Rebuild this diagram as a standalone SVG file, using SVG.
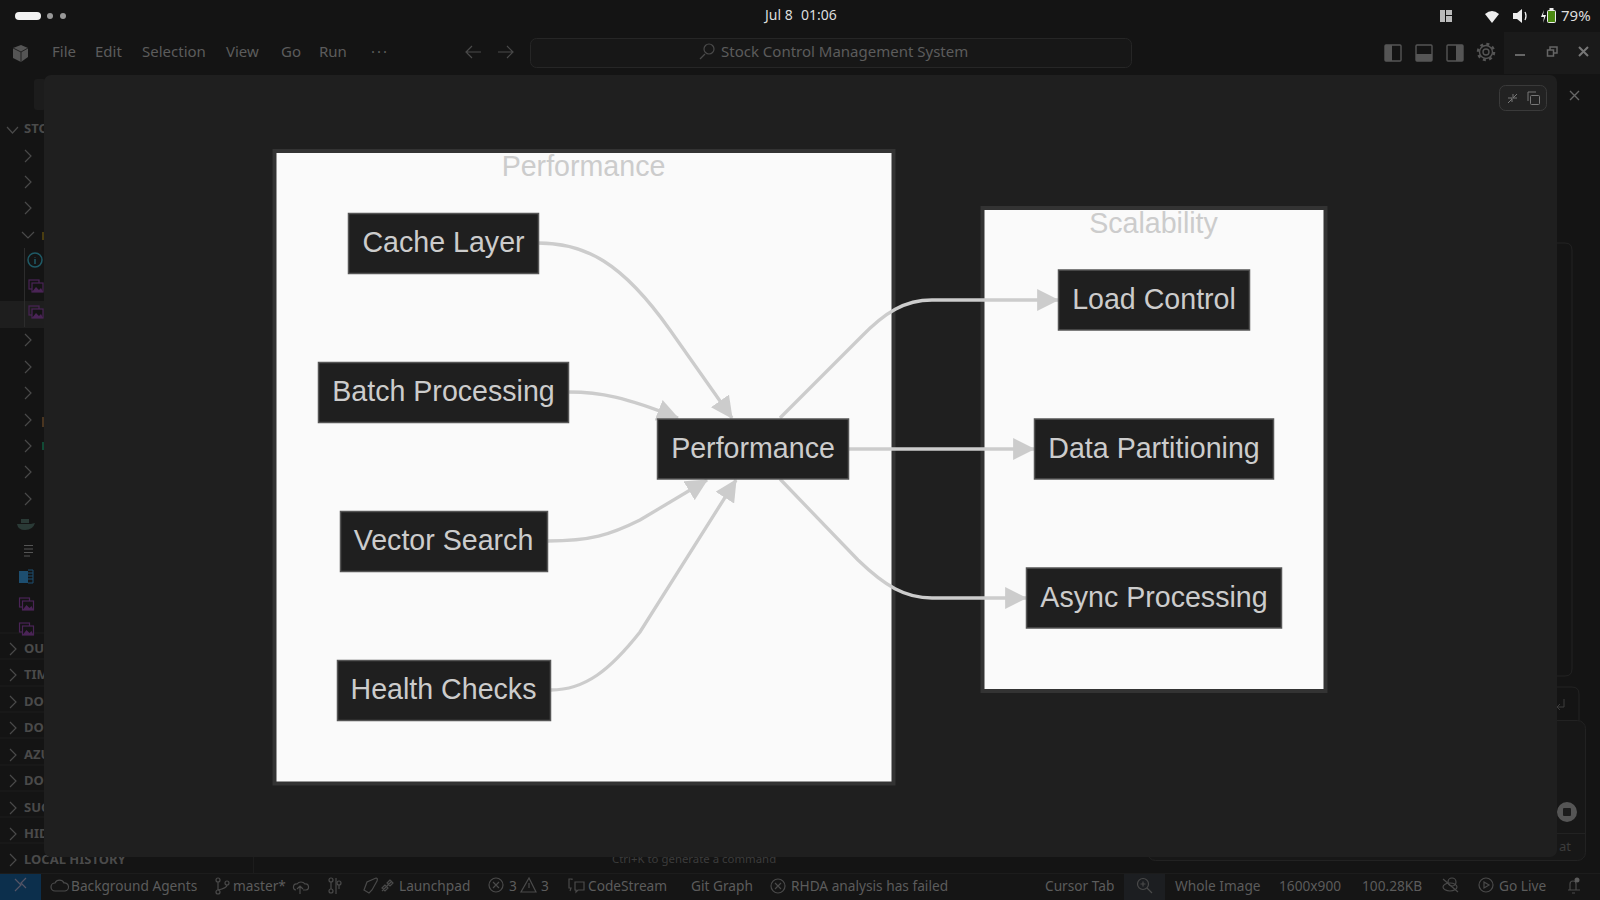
<svg xmlns="http://www.w3.org/2000/svg" width="1600" height="900" viewBox="0 0 1600 900">
<style>
.ui{font-family:"Noto Sans","Open Sans",sans-serif;font-size:13.700px;fill:#5c5c5c}
.mn{font-family:"Noto Sans","Open Sans",sans-serif;font-size:15px;fill:#5c5c5c}
.side{font-family:"Noto Sans","Open Sans",sans-serif;font-size:13px;font-weight:700;fill:#4a4a4a}
.chev{fill:none;stroke:#4a4a4a;stroke-width:1.200}
.nr{fill:#1f1f1f;stroke:#555;stroke-width:1.500}
.nt{font-family:"Liberation Sans",Arial,sans-serif;font-size:28.600px;fill:#ccc;text-anchor:middle}
.cl{fill:#fafafa;stroke:#333;stroke-width:4}
.ct{font-family:"Liberation Sans",Arial,sans-serif;font-size:28.600px;fill:#ccc;text-anchor:middle}
.e{fill:none;stroke:#ccc;stroke-width:3.300;marker-end:url(#ah)}
.img{fill:none;stroke:#4a2456;stroke-width:1.200}
</style>
<defs>
<marker id="ah" viewBox="0 0 10 10" refX="9.500" refY="5" markerUnits="userSpaceOnUse" markerWidth="22" markerHeight="22" orient="auto"><path d="M0,0L10,5L0,10z" fill="#ccc"/></marker>
<g id="imgicon"><rect class="img" x="0" y="0" width="10" height="9"/><rect x="3" y="3" width="11" height="9" fill="#141414" stroke="#4a2456" stroke-width="1.200"/><path d="M3,12l4,-5 3,3 2,-2 2,4z" fill="#4a2456"/></g>
</defs>
<rect width="1600" height="900" fill="#141414"/>
<g id="topbar">
<rect x="15" y="12" width="26" height="8" rx="4" fill="#f2f2f2"/><circle cx="50" cy="16" r="3" fill="#999"/><circle cx="63" cy="16" r="3" fill="#999"/>
<text y="20" style="font-family:'Noto Sans',sans-serif;font-size:14px;fill:#ddd"><tspan x="765">Jul 8</tspan><tspan x="801">01:06</tspan></text>
<rect x="1440" y="10" width="5" height="12" fill="#bbb"/><rect x="1446" y="10" width="6" height="5" fill="#bbb"/><rect x="1446" y="16" width="6" height="6" fill="#bbb"/>
<path d="M1485,14q7,-6 14,0l-7,9z" fill="#eee"/>
<path d="M1513,13h4l5,-4v14l-5,-4h-4z" fill="#eee"/><path d="M1525,12q2,4 0,8" fill="none" stroke="#eee" stroke-width="1.300"/>
<path d="M1544,10l-3,7h3l-1,6 3,-8h-3z" fill="#eee"/>
<rect x="1547.500" y="10.500" width="8" height="12" rx="1" fill="#4c8a12" stroke="#eee"/><rect x="1549.500" y="8" width="4" height="2" fill="#eee"/>
<text x="1561" y="21" style="font-family:'Noto Sans',sans-serif;font-size:15px;fill:#ddd">79%</text>
</g>
<g id="menubar">
<path d="M13,48l8,-3 7,3v9l-7,5-8,-4z" fill="#555"/><path d="M13,48l8,4 7,-4M21,52v10" stroke="#222" fill="none"/>
<text class="mn" x="52" y="57">File</text><text class="mn" x="95" y="57">Edit</text><text class="mn" x="142" y="57">Selection</text><text class="mn" x="226" y="57">View</text><text class="mn" x="281" y="57">Go</text><text class="mn" x="319" y="57">Run</text><text class="mn" x="371" y="57" style="letter-spacing:2px">···</text>
<path d="M481,52h-14m5,-6l-6,6 6,6" class="chev"/><path d="M498,52h14m-5,-6l6,6-6,6" class="chev"/>
<rect x="530.500" y="38.500" width="601" height="29" rx="6" fill="#171717" stroke="#262626"/>
<circle cx="709" cy="49" r="5" class="chev"/><path d="M705,54l-5,5" class="chev"/>
<text class="mn" x="721" y="57">Stock Control Management System</text>
<g fill="none" stroke="#555" stroke-width="1.400"><rect x="1385" y="45" width="16" height="16" rx="1"/><rect x="1416" y="45" width="16" height="16" rx="1"/><rect x="1447" y="45" width="16" height="16" rx="1"/><circle cx="1486" cy="52" r="3"/><circle cx="1486" cy="52" r="6.500"/><circle cx="1486" cy="52" r="8" stroke-width="2.500" stroke-dasharray="3 3.300"/></g>
<rect x="1385" y="45" width="7" height="16" fill="#555"/><rect x="1416" y="54" width="16" height="7" fill="#555"/><rect x="1456" y="45" width="7" height="16" fill="#555"/>
<rect x="1504" y="32" width="96" height="42" fill="#1a1a1a"/>
<path d="M1515,55h10" stroke="#666" stroke-width="2"/><rect x="1547.500" y="50" width="6" height="6" fill="none" stroke="#666" stroke-width="1.500"/><path d="M1550,50v-3h7v6h-3" fill="none" stroke="#666" stroke-width="1.500"/><path d="M1579,47l9,9m0,-9l-9,9" stroke="#777" stroke-width="2"/>
</g>
<g id="sidebar">
<rect x="34" y="79" width="12" height="31" rx="3" fill="#1c1c1c"/><rect x="0" y="301" width="44" height="27" fill="#1e1e1e"/>
<path class="chev" d="M7,127l5.500,6 5.500,-6M22,232l6,6 6,-6M25,150l6,6-6,6M25,176l6,6-6,6M25,202l6,6-6,6M25,334l6,6-6,6M25,361l6,6-6,6M25,387l6,6-6,6M25,414l6,6-6,6M25,440l6,6-6,6M25,466l6,6-6,6M25,493l6,6-6,6M10,643l6,6-6,6M10,669l6,6-6,6M10,696l6,6-6,6M10,722l6,6-6,6M10,749l6,6-6,6M10,775l6,6-6,6M10,802l6,6-6,6M10,828l6,6-6,6M10,854l6,6-6,6"/>
<path d="M24.500,248v79" stroke="#2c2c2c"/>
<path d="M0,633h44M0,659h44M0,686h44M0,712h44M0,738h44M0,765h44M0,791h44M0,817h44M0,843h44" stroke="#1c1c1c"/>
<circle cx="35" cy="260" r="7" fill="none" stroke="#1f5a66" stroke-width="1.500"/><path d="M35,257v.5M35,259v5" stroke="#1f5a66" stroke-width="1.500"/>
<use href="#imgicon" x="29" y="280"/><use href="#imgicon" x="29" y="306"/><use href="#imgicon" x="19.500" y="598"/><use href="#imgicon" x="19.500" y="623"/>
<rect x="19" y="571" width="9" height="12" fill="#1d4e70"/><path d="M28,570h5v13h-5M28,573h5M28,576h5M28,579h5" fill="none" stroke="#1d4e70"/>
<path d="M17,524h14q4,-1 4,-1q-2,7 -10,7q-7,0 -8,-6zM21,519h8v4h-8z" fill="#2a3a36"/>
<path d="M24,545.500h9M24,549h9M24,552.500h9M24,556h6" stroke="#555"/>
<rect x="42" y="232" width="2" height="8" fill="#4a3d10"/><rect x="42" y="417" width="2" height="10" fill="#4a3520"/><rect x="42" y="442" width="2" height="8" fill="#114a35"/>
<text class="side" x="24" y="133">STO</text><text class="side" x="24" y="653">OUT</text><text class="side" x="24" y="679">TIM</text><text class="side" x="24" y="706">DOC</text><text class="side" x="24" y="732">DOC</text><text class="side" x="24" y="759">AZU</text><text class="side" x="24" y="785">DOC</text><text class="side" x="24" y="812">SUG</text><text class="side" x="24" y="838">HID</text><text class="side" x="24" y="864">LOCAL HISTORY</text>
<path d="M253.500,857v17" stroke="#1c1c1c"/>
<text x="612" y="863" style="font-family:'Noto Sans',sans-serif;font-size:11.400px;fill:#3c3c3c">Ctrl+K to generate a command</text>
</g>
<g id="rightpane">
<path d="M1556,243h9q7,0 7,7v419q0,7 -7,7h-9" fill="none" stroke="#222"/>
<path d="M1556,687h16q7,0 7,7v26" fill="none" stroke="#222"/>
<rect x="1147.500" y="720.500" width="438" height="140" rx="8" fill="#171717" stroke="#222"/>
<path d="M1556,833.500h30" stroke="#222"/>
<path d="M1564,699v8h-7m3,-3l-3,3 3,3" fill="none" stroke="#3c3c3c"/>
<circle cx="1567" cy="812" r="10" fill="#555"/><rect x="1563" y="808" width="8" height="8" rx="1" fill="#1c1c1c"/>
<text x="1559" y="851" style="font-family:'Noto Sans',sans-serif;font-size:13px;fill:#3c3c3c">at</text>
<path d="M1570,91l9,9m0,-9l-9,9" stroke="#666" stroke-width="1.400"/>
</g>
<g id="statusbar">
<rect y="874" width="1600" height="26" fill="#151515"/><path d="M0,873.500h1600" stroke="#1c1c1c"/><rect y="874" width="41" height="26" fill="#0c2f4c"/>
<path d="M15,879l6,6-6,6M26,878l-5,5 5,5" fill="none" stroke="#556" stroke-width="1.200"/>
<text class="ui" x="71" y="891">Background Agents</text><text class="ui" x="233" y="891">master*</text><text class="ui" x="399" y="891">Launchpad</text><text class="ui" x="509" y="891">3</text><text class="ui" x="541" y="891">3</text><text class="ui" x="588" y="891">CodeStream</text><text class="ui" x="691" y="891">Git Graph</text><text class="ui" x="791" y="891">RHDA analysis has failed</text><text class="ui" x="1045" y="891">Cursor Tab</text>
<rect x="1124" y="874" width="41" height="26" fill="#1c1e21"/><circle cx="1143" cy="884" r="5.500" class="chev"/><path d="M1147,888l5,5M1143,881.500v5M1140.500,884h5" class="chev"/>
<text class="ui" x="1175" y="891">Whole Image</text><text class="ui" x="1279" y="891">1600x900</text><text class="ui" x="1362" y="891">100.28KB</text><text class="ui" x="1499" y="891">Go Live</text>
<g class="chev"><path d="M55,891a4,4 0 0 1 0,-8a5,5 0 0 1 9,0a4,4 0 0 1 1,8z"/><circle cx="218" cy="880" r="2"/><circle cx="218" cy="892" r="2"/><circle cx="227" cy="883" r="2"/><path d="M218,882v8M227,885q0,3 -9,5"/><path d="M296,890a3,3 0 0 1 1,-6a5,5 0 0 1 8,0a3,3 0 0 1 1,6h-3M300,894v-8m-3,3l3,-3 3,3"/><circle cx="331" cy="880" r="2"/><circle cx="331" cy="891" r="2"/><circle cx="339" cy="883" r="2"/><path d="M331,882v7M336,878v16M339,885v4"/><path d="M364,890l3,-8 9,-4q2,0 1,3l-5,9-3,3z"/><path d="M382,891l10,-10M385,885l-3,3 3,3 3,-3zM390,880l-3,3 3,3 3,-3z"/><circle cx="496" cy="885" r="7"/><path d="M493,882l6,6m0,-6l-6,6"/><path d="M529,878l7,14h-15z M529,883v5"/><path d="M572,880v-1h-3v9h2l-1,3M575,882h9v8h-6l-2,2v-2h-1z"/><circle cx="778" cy="886" r="7"/><path d="M775,883l6,6m0,-6l-6,6"/><ellipse cx="1450" cy="887" rx="7" ry="4"/><circle cx="1452" cy="882" r="4"/><path d="M1443,879l15,13"/><circle cx="1486" cy="885" r="7"/><path d="M1484,882l5,3-5,3z"/><path d="M1568,890h12M1570,890v-6a3,3 0 0 1 6,0v6M1572,893h3"/></g>
<circle cx="1577" cy="880" r="2.500" fill="#5c5c5c"/>
</g>
<rect id="panel" x="44" y="75" width="1513" height="782" rx="7" fill="#1f1f1f"/>
<g id="panel-tools">
<rect x="1499.500" y="85.500" width="47" height="25" rx="6" fill="#222" stroke="#3a3a3a"/>
<path d="M1508,103l4,-4M1513,98l4,-4" stroke="#777" fill="none"/><path d="M1513,94v4h4M1508,98h4v4" stroke="#777" fill="none"/>
<rect x="1530.500" y="95.500" width="9" height="9" rx="1" fill="none" stroke="#777"/><path d="M1528,101v-9h8" fill="none" stroke="#777"/>
</g>
<g id="cluster-performance"><rect class="cl" x="274.500" y="151" width="619" height="632.500"/><text class="ct" x="583.500" y="176">Performance</text></g>
<g id="cluster-scalability"><rect class="cl" x="982.500" y="208" width="343" height="483"/><text class="ct" x="1153.500" y="233">Scalability</text></g>
<g id="connectors">
<path class="e" d="M538,243C585,243 622,262 670,330L732,418"/>
<path class="e" d="M569,392C600,392 625,397 678,418"/>
<path class="e" d="M548,541C590,541 610,535 640,520L707,480"/>
<path class="e" d="M551,690C585,690 610,670 640,632L736,480"/>
<path class="e" d="M780,418L860,338C885,312 905,300 932,300L1058,300"/>
<path class="e" d="M849,449L1034,449"/>
<path class="e" d="M780,479L858,560C885,586 905,598 932,598L1026,598"/>
</g>
<g id="n-cache"><rect class="nr" x="348.500" y="213.500" width="190" height="60"/><text class="nt" x="443.500" y="252">Cache Layer</text></g>
<g id="n-batch"><rect class="nr" x="318.500" y="362.500" width="250" height="60"/><text class="nt" x="443.500" y="401">Batch Processing</text></g>
<g id="n-vector"><rect class="nr" x="340.500" y="511.500" width="207" height="60"/><text class="nt" x="443.500" y="550">Vector Search</text></g>
<g id="n-health"><rect class="nr" x="337.500" y="660.500" width="213" height="60"/><text class="nt" x="443.500" y="699">Health Checks</text></g>
<g id="n-perf"><rect class="nr" x="657.500" y="419" width="191" height="60"/><text class="nt" x="753" y="458">Performance</text></g>
<g id="n-load"><rect class="nr" x="1058.500" y="270" width="191" height="60"/><text class="nt" x="1154" y="309">Load Control</text></g>
<g id="n-data"><rect class="nr" x="1034.500" y="419" width="239" height="60"/><text class="nt" x="1154" y="458">Data Partitioning</text></g>
<g id="n-async"><rect class="nr" x="1026.500" y="568" width="255" height="60"/><text class="nt" x="1154" y="607">Async Processing</text></g>
</svg>
